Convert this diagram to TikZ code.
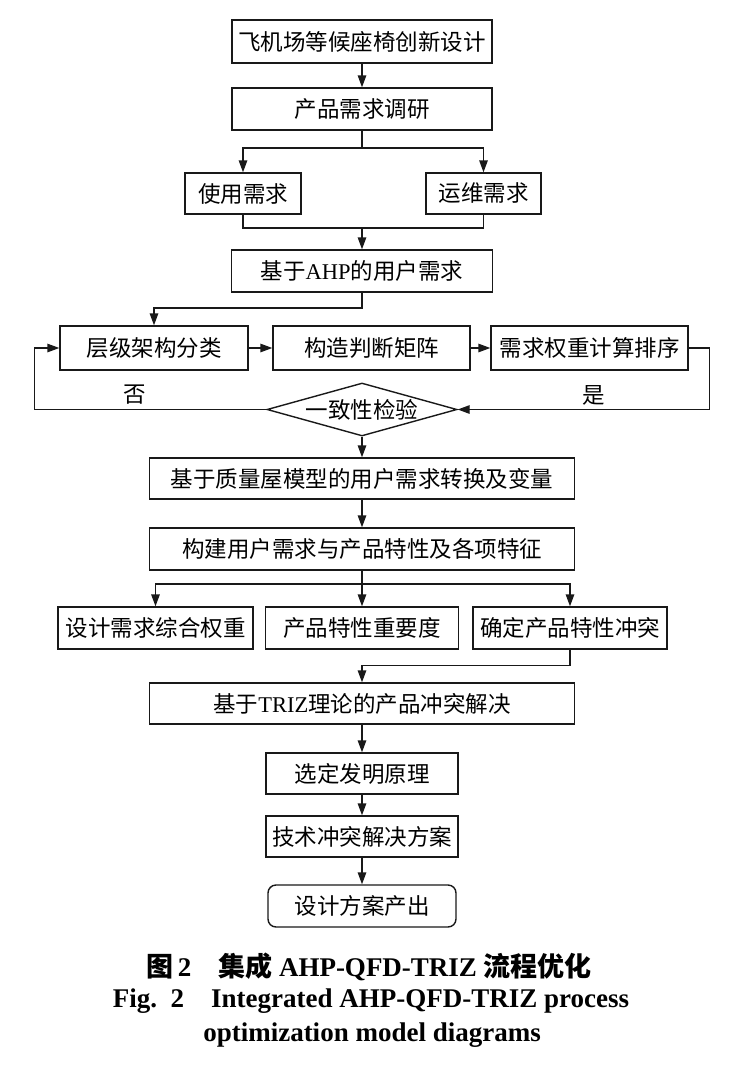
\documentclass[tikz,border=0pt]{standalone}
\usepackage{fontspec}
\setmainfont{Liberation Serif}
\newfontfamily\cjk{Noto Sans CJK SC}
\usetikzlibrary{arrows.meta,shapes.geometric}
\tikzset{
  box/.style={draw=black!90, line width=1.4pt, inner sep=0pt, align=center, font=\fontsize{22.5}{26}\selectfont},
  arr/.style={draw=black!90, line width=1.4pt, -{Triangle[length=12pt,width=8.5pt]}},
  ln/.style={draw=black!90, line width=1.4pt},
  lab/.style={font=\fontsize{22.5}{26}\selectfont\cjk, inner sep=0pt},
  captext/.style={font=\fontsize{27}{32}\selectfont\bfseries, inner sep=0pt}
}
\begin{document}
\begin{tikzpicture}[x=1pt,y=-1pt]
\useasboundingbox (0,0) rectangle (734,1068);
\fill[white] (0,0) rectangle (734,1068);
% boxes
\node[box, minimum width=260, minimum height=43] (b1) at (362,41.5) {\cjk 飞机场等候座椅创新设计};
\node[box, minimum width=260, minimum height=42] (b2) at (362,109) {\cjk 产品需求调研};
\node[box, minimum width=116, minimum height=41] (b3) at (243,193.5) {\cjk 使用需求};
\node[box, minimum width=115, minimum height=41] (b4) at (483.5,193.5) {\cjk 运维需求};
\node[box, minimum width=261, minimum height=42] (b5) at (362,271) {{\cjk 基于}AHP{\cjk 的用户需求}};
\node[box, minimum width=188, minimum height=44] (b6) at (154,348) {\cjk 层级架构分类};
\node[box, minimum width=197, minimum height=44] (b7) at (371.5,348) {\cjk 构造判断矩阵};
\node[box, minimum width=197, minimum height=44] (b8) at (589.5,348) {\cjk 需求权重计算排序};
\node[box, diamond, aspect=3.6, minimum width=190, minimum height=53] (d) at (362,409.5) {\cjk 一致性检验};
\node[box, minimum width=425, minimum height=41] (b9) at (362,478.5) {\cjk 基于质量屋模型的用户需求转换及变量};
\node[box, minimum width=425, minimum height=42] (b10) at (362,549) {\cjk 构建用户需求与产品特性及各项特征};
\node[box, minimum width=195, minimum height=42] (b11) at (155.5,628) {\cjk 设计需求综合权重};
\node[box, minimum width=193, minimum height=42] (b12) at (362,628) {\cjk 产品特性重要度};
\node[box, minimum width=194, minimum height=42] (b13) at (570,628) {\cjk 确定产品特性冲突};
\node[box, minimum width=425, minimum height=41] (b14) at (362,703.5) {{\cjk 基于}TRIZ{\cjk 理论的产品冲突解决}};
\node[box, minimum width=192, minimum height=41] (b15) at (362,773.5) {\cjk 选定发明原理};
\node[box, minimum width=192, minimum height=41] (b16) at (362,836.5) {\cjk 技术冲突解决方案};
\node[box, rounded corners=8pt, minimum width=188, minimum height=42] (b17) at (362,906) {\cjk 设计方案产出};
% labels
\node[lab] (no) at (135,395) {否};
\node[lab] (yes) at (594,395) {是};
% junctions
\coordinate (j1) at (362,148);
\coordinate (j2) at (362,228);
\coordinate (j3) at (362,308);
\coordinate (j4) at (362,584);
% connectors
\draw[arr] (b1) -- (b2);
\draw[ln] (b2.south) -- (j1);
\draw[arr] (j1) -| (b3.north);
\draw[arr] (j1) -| (b4.north);
\draw[ln] (b3.south) |- (j2);
\draw[ln] (b4.south) |- (j2);
\draw[arr] (j2) -- (b5.north);
\draw[arr] (b5.south) -- (j3) -| (b6.north);
\draw[arr] (b6) -- (b7);
\draw[arr] (b7) -- (b8);
\draw[arr] (b8.east) -- ++(21,0) |- (d.east);
\draw[arr] (d.west) -- ++(-232,0) |- (b6.west);
\draw[arr] (d.south) -- (b9.north);
\draw[arr] (b9) -- (b10);
\draw[ln] (b10.south) -- (j4);
\draw[arr] (j4) -| (b11.north);
\draw[arr] (j4) -- (b12.north);
\draw[arr] (j4) -| (b13.north);
\draw[arr] (b13.south) -- ++(0,16) -| (b14.north);
\draw[arr] (b14) -- (b15);
\draw[arr] (b15) -- (b16);
\draw[arr] (b16) -- (b17);
% caption
\node[captext] (c1) at (369,967) {{\cjk 图}\,2\hspace{1em}{\cjk 集成} AHP-QFD-TRIZ {\cjk 流程优化}};
\node[captext] (c2) at (371,1001) {Fig.\ \ 2\hspace{1em}Integrated AHP-QFD-TRIZ process};
\node[captext] (c3) at (372,1035) {optimization model diagrams};
\end{tikzpicture}
\end{document}
